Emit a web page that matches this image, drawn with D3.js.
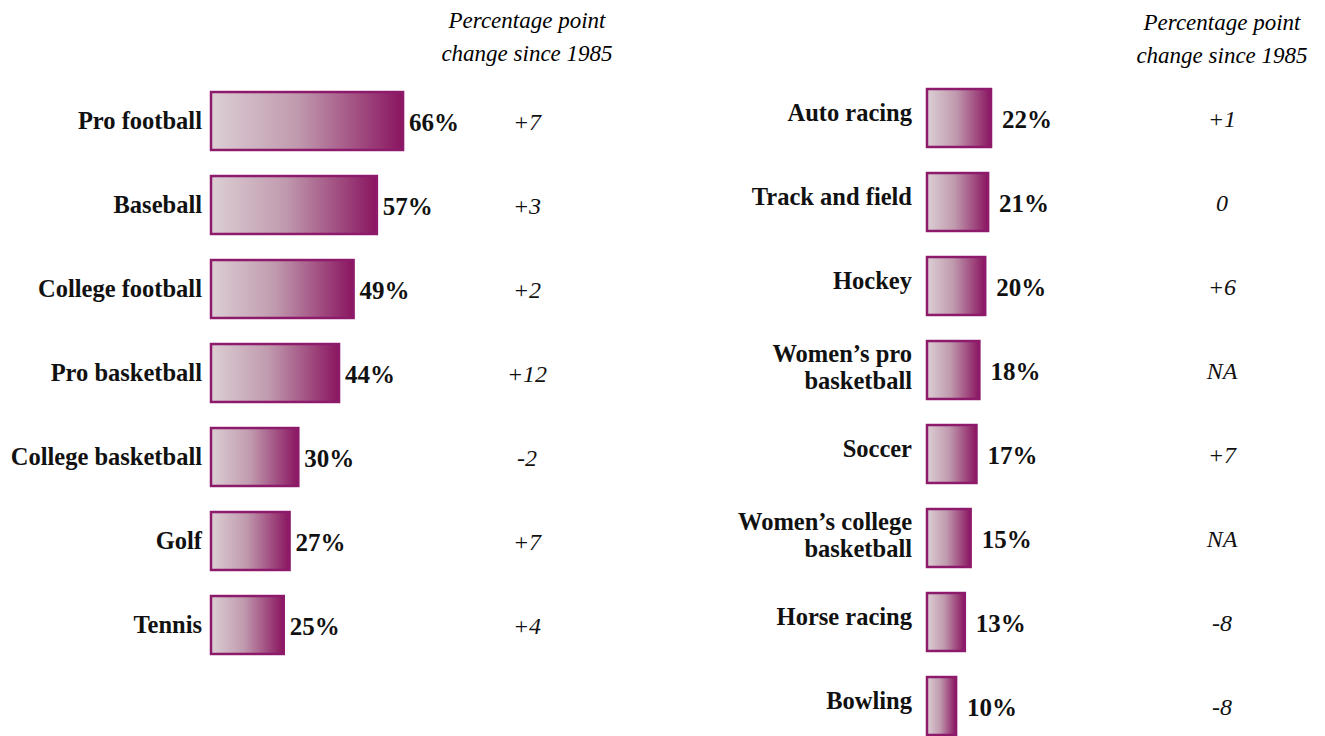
<!DOCTYPE html>
<html>
<head>
<meta charset="utf-8">
<script src="https://cdn.jsdelivr.net/npm/d3@7"></script>
<style>
  html, body { margin: 0; padding: 0; background: #fff; }
  svg { display: block; }
</style>
</head>
<body>
<svg id="chart" width="1325" height="736"></svg>
<script>
const leftCategories = ["Pro football", "Baseball", "College football", "Pro basketball", "College basketball", "Golf", "Tennis"];
const leftValues = [66, 57, 49, 44, 30, 27, 25];
const leftChanges = ["+7", "+3", "+2", "+12", "-2", "+7", "+4"];

const rightCategories = ["Auto racing", "Track and field", "Hockey", "Women’s pro basketball", "Soccer", "Women’s college basketball", "Horse racing", "Bowling"];
const rightValues = [22, 21, 20, 18, 17, 15, 13, 10];
const rightChanges = ["+1", "0", "+6", "NA", "+7", "NA", "-8", "-8"];

const headerLines = ["Percentage point", "change since 1985"];

const svg = d3.select("#chart");
const FONT = "'Liberation Serif', 'DejaVu Serif', serif";

// gradient
const defs = svg.append("defs");
const grad = defs.append("linearGradient").attr("id", "barGrad")
  .attr("x1", "0%").attr("x2", "100%").attr("y1", "0%").attr("y2", "0%");
grad.append("stop").attr("offset", "0%").attr("stop-color", "#dccfd4");
grad.append("stop").attr("offset", "45%").attr("stop-color", "#c09aae");
grad.append("stop").attr("offset", "100%").attr("stop-color", "#8a1560");

const x = d3.scaleLinear().domain([0, 100]).range([0, 291]);

function drawPanel(opts) {
  const { cats, vals, changes, x0, y0, labelX, valGap, changeX, headerY, labelDy, wrap } = opts;
  const step = 84;
  const y = d3.scaleBand().domain(cats).range([y0, y0 + step * cats.length])
    .paddingInner(0.31).paddingOuter(0.155);
  const g = svg.append("g");

  // header
  g.append("text")
    .attr("x", changeX).attr("y", headerY)
    .attr("text-anchor", "middle")
    .style("font-family", FONT).style("font-style", "italic").style("font-size", "23px")
    .selectAll("tspan").data(headerLines).join("tspan")
    .attr("x", changeX).attr("dy", (d, i) => i === 0 ? 0 : 33).text(d => d);

  const rows = g.selectAll("g.row").data(cats).join("g").attr("class", "row");

  rows.append("rect")
    .attr("x", x0)
    .attr("y", d => y(d))
    .attr("width", (d, i) => x(vals[i]))
    .attr("height", y.bandwidth())
    .attr("fill", "url(#barGrad)")
    .attr("stroke", "#8e1a6b")
    .attr("stroke-width", 2.5);

  // category labels
  rows.each(function (d) {
    const cy = y(d) + y.bandwidth() / 2;
    let lines = [d];
    if (wrap && d.length > 18) {
      const k = d.lastIndexOf(" ");
      lines = [d.slice(0, k), d.slice(k + 1)];
    }
    const t = d3.select(this).append("text")
      .attr("text-anchor", "end")
      .style("font-family", FONT).style("font-weight", "bold").style("font-size", "24.5px")
      .attr("fill", "#111");
    const lh = 27;
    lines.forEach((ln, i) => {
      t.append("tspan")
        .attr("x", labelX)
        .attr("y", cy + (lines.length === 1 ? labelDy : -3.5) + (i - (lines.length - 1) / 2) * lh)
        .attr("dominant-baseline", "central")
        .text(ln);
    });
  });

  // value labels
  rows.append("text")
    .attr("x", (d, i) => x0 + x(vals[i]) + valGap)
    .attr("y", d => y(d) + y.bandwidth() / 2 + 1)
    .attr("dominant-baseline", "central")
    .style("font-family", FONT).style("font-weight", "bold").style("font-size", "25px")
    .attr("fill", "#111")
    .text((d, i) => vals[i] + "%");

  // change labels
  rows.append("text")
    .attr("x", changeX)
    .attr("y", d => y(d) + y.bandwidth() / 2 + 1)
    .attr("dominant-baseline", "central")
    .attr("text-anchor", "middle")
    .style("font-family", FONT).style("font-style", "italic").style("font-size", "24px")
    .attr("fill", "#111")
    .text((d, i) => changes[i]);
}

drawPanel({ cats: leftCategories, vals: leftValues, changes: leftChanges,
  x0: 211, y0: 79, labelX: 202, valGap: 6, changeX: 527, headerY: 28, labelDy: -1, wrap: false });
drawPanel({ cats: rightCategories, vals: rightValues, changes: rightChanges,
  x0: 927, y0: 76, labelX: 912, valGap: 11, changeX: 1222, headerY: 30, labelDy: -6, wrap: true });
</script>
</body>
</html>
